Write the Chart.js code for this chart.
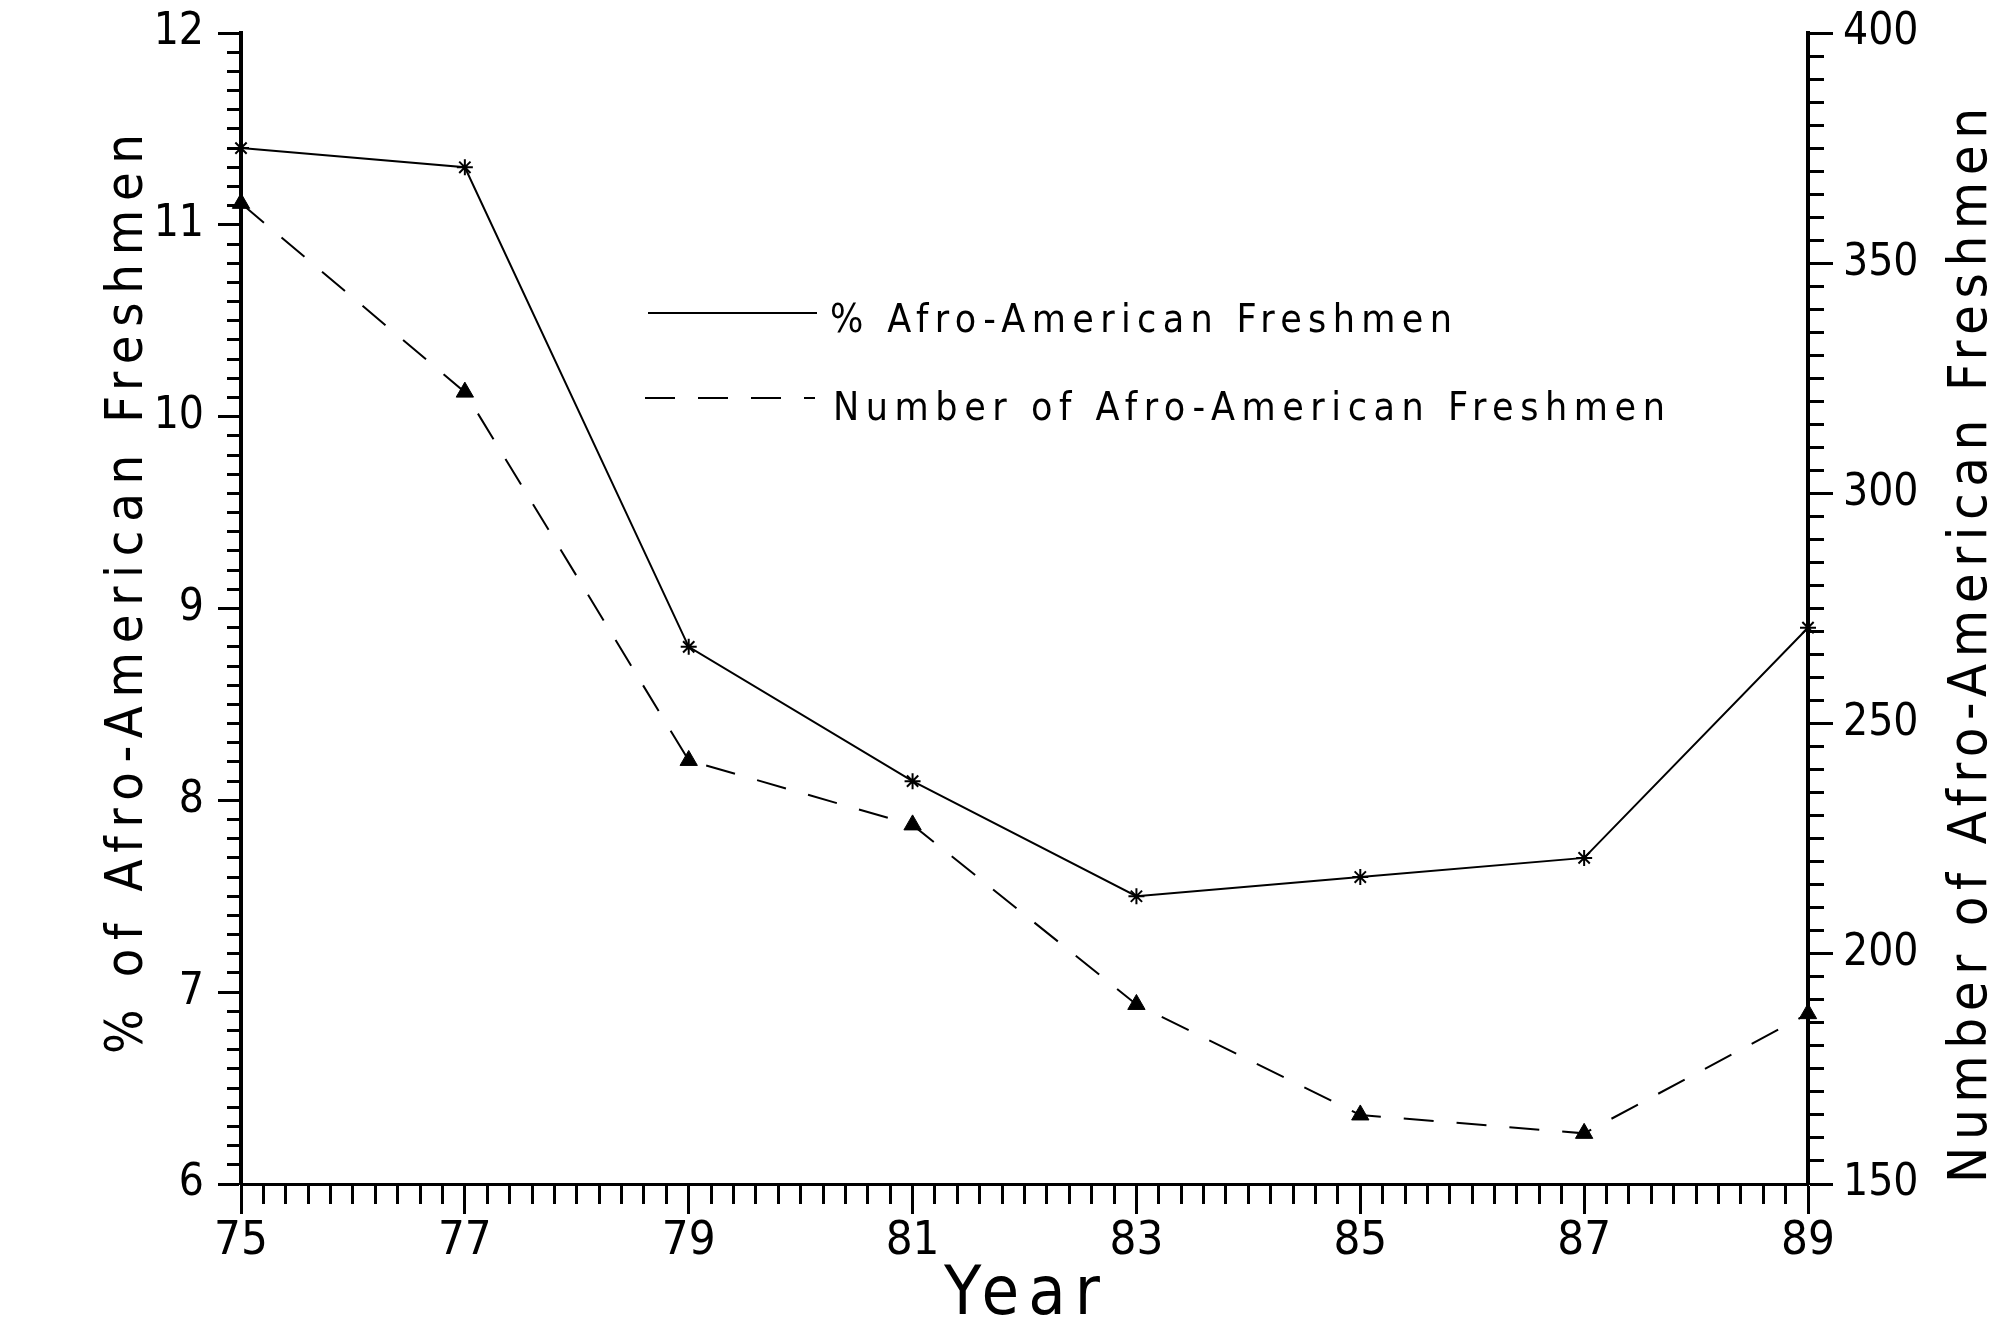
<!DOCTYPE html>
<html>
<head>
<meta charset="utf-8">
<script src="https://cdn.jsdelivr.net/npm/chart.js@4.4.0/dist/chart.umd.min.js"></script>
<style>
  html, body { margin: 0; padding: 0; background: #fff; }
  canvas { display: block; }
</style>
</head>
<body>
<canvas id="freshmenChart" width="2001" height="1324"></canvas>
<script>
// data
const years = [75, 77, 79, 81, 83, 85, 87, 89];
const percentFreshmen = [11.4, 11.3, 8.8, 8.1, 7.5, 7.6, 7.7, 8.9];
const numberFreshmen = [363, 322, 242, 228, 189, 165, 161, 187];

const yearLabels = [75, 77, 79, 81, 83, 85, 87, 89];
const percentLabels = [6, 7, 8, 9, 10, 11, 12];
const numberLabels = [150, 200, 250, 300, 350, 400];

const FONT = '"Liberation Sans Narrow", "DejaVu Sans Condensed", "Liberation Sans", sans-serif';
const INK = "#000";

function isLabelled(list, v) {
    return list.some(t => Math.abs(t - v) < 1e-6);
}

// writes text starting at (x, y) on the baseline, stretched to a given width
function spacedText(ctx, text, x, y, width, size, angle) {
    ctx.save();
    ctx.translate(x, y);
    ctx.rotate(angle || 0);
    ctx.font = size + "px " + FONT;
    ctx.letterSpacing = "0px";
    const plain = ctx.measureText(text).width;
    ctx.letterSpacing = ((width - plain) / (text.length - 1)) + "px";
    ctx.textAlign = "left";
    ctx.textBaseline = "alphabetic";
    ctx.fillStyle = INK;
    ctx.fillText(text, 0, 0);
    ctx.restore();
}

const textPlugin = {
    id: "freshmenText",
    afterDraw(chart) {
        const ctx = chart.ctx;
        const ds = chart.data.datasets;

        // axis titles
        spacedText(ctx, "% of Afro-American Freshmen", 142, 1054, 920, 52, -Math.PI / 2);
        spacedText(ctx, "Number of Afro-American Freshmen", 1986, 1183, 1075, 54, -Math.PI / 2);
        spacedText(ctx, "Year", 944, 1314, 156, 68, 0);

        // legend
        const rows = [
            { ds: ds[0], x0: 648, x1: 817, y: 313, tx: 830, ty: 332, tw: 622 },
            { ds: ds[1], x0: 645, x1: 815, y: 398, tx: 833, ty: 420, tw: 832 }
        ];
        rows.forEach(r => {
            ctx.save();
            ctx.strokeStyle = INK;
            ctx.lineWidth = r.ds.borderWidth;
            ctx.setLineDash(r.ds.borderDash || []);
            ctx.beginPath();
            ctx.moveTo(r.x0, r.y);
            ctx.lineTo(r.x1, r.y);
            ctx.stroke();
            ctx.restore();
            spacedText(ctx, r.ds.label, r.tx, r.ty, r.tw, 39, 0);
        });
    }
};

const tickFont = { family: FONT, size: 44 };

new Chart(document.getElementById("freshmenChart"), {
    type: "line",
    data: {
        datasets: [{
            label: "% Afro-American Freshmen",
            data: years.map((y, i) => ({ x: y, y: percentFreshmen[i] })),
            yAxisID: "yPct",
            borderColor: INK,
            borderWidth: 2,
            pointStyle: "star",
            pointRadius: 8,
            pointBorderWidth: 2,
            pointBorderColor: INK,
            pointBackgroundColor: INK,
            clip: false
        }, {
            label: "Number of Afro-American Freshmen",
            data: years.map((y, i) => ({ x: y, y: numberFreshmen[i] })),
            yAxisID: "yNum",
            borderColor: INK,
            borderWidth: 2,
            borderDash: [30, 23],
            pointStyle: "triangle",
            pointRadius: 10,
            pointBorderWidth: 1,
            pointBorderColor: INK,
            pointBackgroundColor: INK,
            clip: false
        }]
    },
    options: {
        responsive: false,
        animation: false,
        layout: { padding: { top: 33, left: 0, right: 0, bottom: 0 } },
        plugins: {
            legend: { display: false },
            tooltip: { enabled: false }
        },
        scales: {
            x: {
                type: "linear",
                position: "bottom",
                min: 75,
                max: 89,
                border: { display: true, color: INK, width: 3 },
                grid: {
                    drawOnChartArea: false,
                    tickLength: 30,
                    tickWidth: 3,
                    tickColor: INK,
                    tickBorderDash: c => (c.tick && !isLabelled(yearLabels, c.tick.value)) ? [18, 300] : []
                },
                ticks: {
                    stepSize: 0.2,
                    autoSkip: false,
                    maxRotation: 0,
                    padding: 0,
                    color: INK,
                    font: { family: FONT, size: 47 },
                    callback: v => isLabelled(yearLabels, v) ? String(Math.round(v)) : ""
                },
                afterFit: s => { s.height = 140; s.paddingLeft = 0; s.paddingRight = 0; }
            },
            yPct: {
                type: "linear",
                position: "left",
                min: 6,
                max: 12,
                border: { display: true, color: INK, width: 4 },
                grid: {
                    drawOnChartArea: false,
                    tickLength: 23,
                    tickWidth: 3,
                    tickColor: INK,
                    tickBorderDash: c => (c.tick && !isLabelled(percentLabels, c.tick.value)) ? [0, 9, 300] : []
                },
                ticks: {
                    stepSize: 0.1,
                    autoSkip: false,
                    padding: 14,
                    color: INK,
                    font: tickFont,
                    callback: v => isLabelled(percentLabels, v) ? String(Math.round(v)) : ""
                },
                afterFit: s => { s.width = 241; s.paddingTop = 0; s.paddingBottom = 0; }
            },
            yNum: {
                type: "linear",
                position: "right",
                min: 150,
                max: 400,
                border: { display: true, color: INK, width: 4 },
                grid: {
                    drawOnChartArea: false,
                    tickLength: 25,
                    tickWidth: 3,
                    tickColor: INK,
                    tickBorderDash: c => (c.tick && !isLabelled(numberLabels, c.tick.value)) ? [14, 300] : []
                },
                ticks: {
                    stepSize: 5,
                    autoSkip: false,
                    padding: 10,
                    color: INK,
                    font: tickFont,
                    callback: v => isLabelled(numberLabels, v) ? String(Math.round(v)) : ""
                },
                afterFit: s => { s.width = 193; s.paddingTop = 0; s.paddingBottom = 0; }
            }
        }
    },
    plugins: [textPlugin]
});
</script>
</body>
</html>
